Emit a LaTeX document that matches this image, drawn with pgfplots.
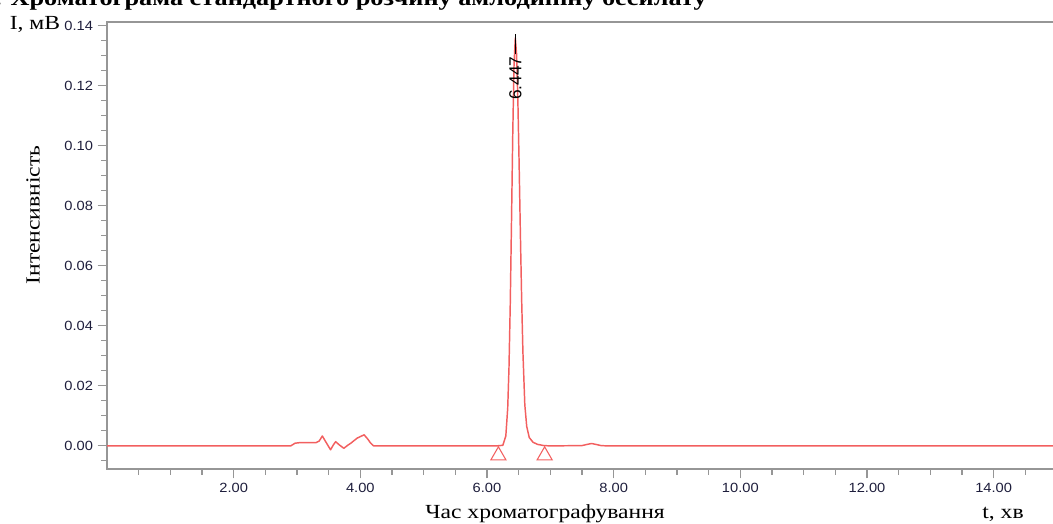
\documentclass[border=0pt]{standalone}
\usepackage{fontspec}
\setmainfont{Liberation Serif}
\newfontfamily\labelfont[FakeStretch=1.18]{Liberation Serif}
\newfontfamily\tickfont[FakeStretch=1.1]{Liberation Sans}
\newfontfamily\peakfont{Liberation Sans}
\usepackage{pgfplots}
\pgfplotsset{compat=1.18}
\definecolor{axgray}{RGB}{150,150,150}
\definecolor{trace}{RGB}{242,95,95}
\definecolor{ticktext}{RGB}{30,30,60}

\begin{document}
\begin{tikzpicture}
\begin{axis}[
  at={(80.25pt,41.25pt)}, anchor=south west,
  scale only axis, width=712.5pt, height=335.25pt,
  xmin=0, xmax=15, ymin=-0.0077, ymax=0.1413,
  axis line style={axgray, line width=0.8pt},
  xtick={2,4,6,8,10,12,14},
  ytick={0,0.02,0.04,0.06,0.08,0.10,0.12,0.14},
  minor xtick={0.5,1,1.5,2.5,3,3.5,4.5,5,5.5,6.5,7,7.5,8.5,9,9.5,10.5,11,11.5,12.5,13,13.5,14.5},
  minor ytick={-0.005,0.005,0.01,0.015,0.025,0.03,0.035,0.045,0.05,0.055,0.065,0.07,0.075,0.085,0.09,0.095,0.105,0.11,0.115,0.125,0.13,0.135},
  xtick pos=left, ytick pos=left,
  tick align=outside,
  major tick length=7pt, minor tick length=4.5pt,
  tick style={axgray, line width=0.8pt},
  minor tick style={axgray, line width=0.8pt},
  ticklabel style={font=\tickfont\fontsize{10}{11}\selectfont, text=ticktext},
  /pgf/number format/assume math mode=true,
  xticklabel style={/pgf/number format/.cd, fixed, fixed zerofill, precision=2},
  yticklabel style={/pgf/number format/.cd, fixed, fixed zerofill, precision=2},
]
\addplot[trace, line width=1.1pt, line join=round] coordinates {
(0,0) (2.9,0) (2.97,0.0009) (3.05,0.0011) (3.3,0.0011) (3.35,0.0016) (3.40,0.0033)
(3.45,0.0015) (3.53,-0.0013) (3.57,0.0002) (3.61,0.0014) (3.67,0.0003) (3.74,-0.0008)
(3.80,0.0002) (3.85,0.0009) (3.95,0.0026) (4.06,0.0037) (4.12,0.0022) (4.16,0.001)
(4.21,0) (6.15,0) (6.20,0.0001) (6.25,0.0002) (6.297,0.0033) (6.327,0.0126)
(6.347,0.026) (6.367,0.047) (6.387,0.075) (6.407,0.1044) (6.427,0.1273) (6.447,0.136)
(6.467,0.1306) (6.487,0.1155) (6.507,0.0942) (6.527,0.0707) (6.547,0.049) (6.567,0.0313)
(6.597,0.0137) (6.627,0.0065) (6.667,0.0028) (6.727,0.0012) (6.80,0.0005) (6.90,0.0001)
(7.0,0) (7.5,0.0001) (7.58,0.0005) (7.65,0.0008) (7.72,0.0005) (7.8,0.0001) (7.9,0) (15,0)
};
\addplot[only marks, mark=triangle, mark size=6.5pt, trace, mark options={line width=0.8pt}]
  coordinates {(6.18,-0.0032) (6.91,-0.0032)};
\addplot[black, line width=0.6pt] coordinates {(6.447,0.1305) (6.447,0.1373)};
\node[rotate=90, anchor=east, inner sep=1pt, font=\peakfont\fontsize{13}{14}\selectfont]
  at (axis cs:6.447,0.1303) {6.447};
\end{axis}
\node[anchor=base east, font=\labelfont\bfseries\fontsize{16.7}{19}\selectfont, inner sep=0pt]
  at (530.25pt,388.5pt) {Рис. 1. Хроматограма стандартного розчину амлодипіну бесилату};
\node[anchor=base, font=\labelfont\fontsize{15}{18}\selectfont, inner sep=0pt] at (26.25pt,370.5pt) {I, мВ};
\node[rotate=90, font=\labelfont\fontsize{15}{18}\selectfont, inner sep=0pt] at (24.75pt,231.75pt) {Інтенсивність};
\node[anchor=base, font=\labelfont\fontsize{15}{18}\selectfont, inner sep=0pt] at (408.75pt,3.75pt) {Час хроматографування};
\node[anchor=base, font=\labelfont\fontsize{15}{18}\selectfont, inner sep=0pt] at (752.25pt,3.75pt) {t, хв};
\pgfresetboundingbox
\path[use as bounding box] (0,0) rectangle (789.75pt,393pt);
\end{tikzpicture}
\end{document}
